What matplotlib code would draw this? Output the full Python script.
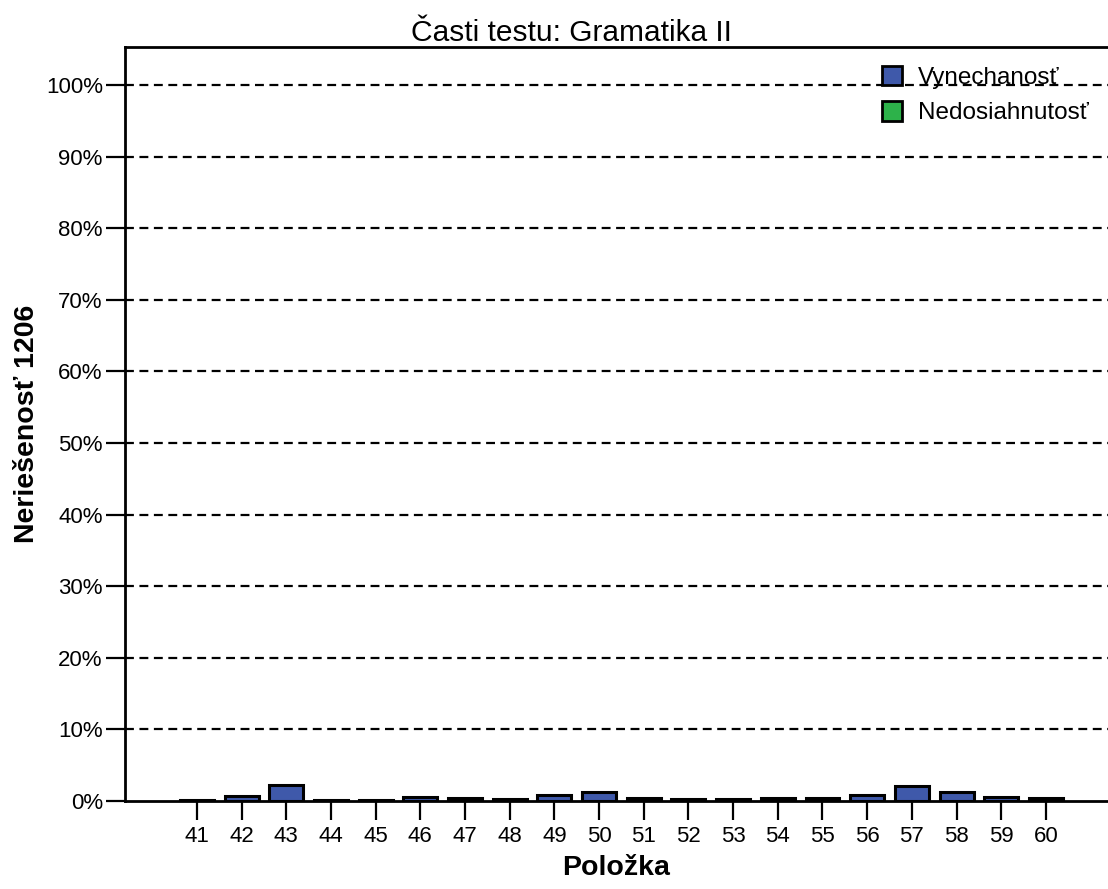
import matplotlib
matplotlib.use("Agg")
import matplotlib.pyplot as plt
from matplotlib.patches import Patch
import numpy as np

plt.rcParams['font.family'] = ['Liberation Sans', 'DejaVu Sans']

items = [41, 42, 43, 44, 45, 46, 47, 48, 49, 50, 51, 52, 53, 54, 55, 56, 57, 58, 59, 60]
vynechanost = [0.2, 0.7, 2.2, 0.1, 0.1, 0.5, 0.35, 0.25, 0.8, 1.2,
               0.45, 0.3, 0.3, 0.4, 0.35, 0.85, 2.1, 1.3, 0.55, 0.4]
nedosiahnutost = [0.0] * 20
yticks = [0, 10, 20, 30, 40, 50, 60, 70, 80, 90, 100]
ytick_labels = [f"{v}%" for v in yticks]

title = "Časti testu: Gramatika II"
xlabel = "Položka"
ylabel = "Neriešenosť 1206"
legend_labels = ["Vynechanosť", "Nedosiahnutosť"]

blue = "#3F59AA"
green = "#2DB24A"

W, H = 1108, 889
fig = plt.figure(figsize=(W / 100, H / 100), dpi=100)
ax = fig.add_axes([125 / W, 1 - 801 / H, (W - 125) / W, (801 - 47) / H])

ax.bar(items, vynechanost, width=0.76, color=blue, edgecolor="black", linewidth=2.2, zorder=3)
ax.bar(items, nedosiahnutost, bottom=vynechanost, width=0.76, color=green,
       edgecolor="black", linewidth=0, zorder=3)

ax.set_xlim(39.39, 61.39)
ax.set_ylim(0, 105.3)
ax.set_yticks(yticks)
ax.set_yticklabels(ytick_labels)
ax.set_xticks(items)
ax.set_xticklabels([str(i) for i in items])

for y in yticks[1:]:
    ax.axhline(y, color="black", linestyle=(0, (4, 2.5)), linewidth=1.6, zorder=1)

ax.tick_params(axis="both", direction="out", length=14, width=1.6, labelsize=16,
               colors="black", pad=2)
ax.tick_params(axis="x", pad=4)
for s in ["left", "bottom", "top"]:
    ax.spines[s].set_linewidth(2)
ax.spines["right"].set_visible(False)

ax.set_title(title, fontsize=21.5, x=0.454, pad=4)
ax.set_xlabel(xlabel, fontsize=20.5, fontweight="bold", labelpad=6)
ax.set_ylabel(ylabel, fontsize=20.5, fontweight="bold", labelpad=4)

handles = [Patch(facecolor=blue, edgecolor="black", linewidth=2),
           Patch(facecolor=green, edgecolor="black", linewidth=2)]
leg = ax.legend(handles, legend_labels, loc="upper right", bbox_to_anchor=(1.003, 1.004),
                frameon=False, fontsize=17.5, handlelength=0.85, handleheight=0.85,
                handletextpad=0.65, labelspacing=0.5)
leg.set_zorder(5)

fig.savefig("out.png", dpi=100)
